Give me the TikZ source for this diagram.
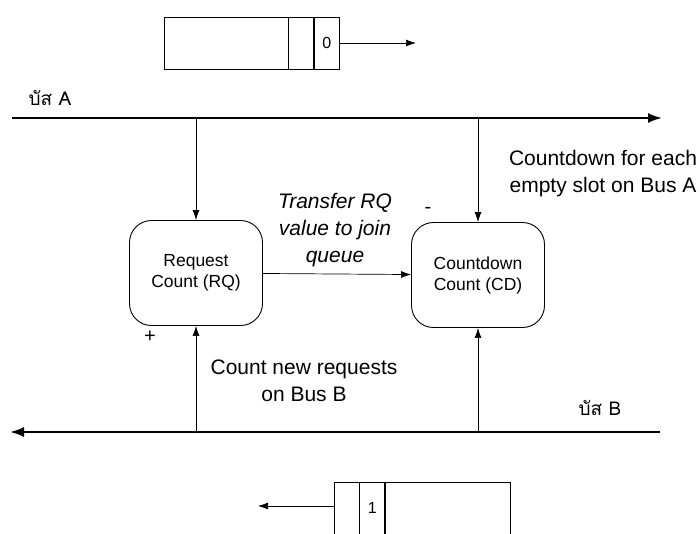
\documentclass[tikz,border=0pt]{standalone}
\usepackage{fontspec}
\setmainfont{Liberation Sans}
\newfontfamily\thaifont[Script=Thai]{Loma}
\usetikzlibrary{positioning,arrows.meta}

\begin{document}
\begin{tikzpicture}[x=1pt,y=-1pt,
      cuenta/.style={rounded corners=22pt,draw,line width=0.9pt,
                     minimum width=133pt,minimum height=105pt,align=center,
                     font=\fontsize{17.5}{21}\selectfont},
      celda/.style={draw,line width=0.7pt,minimum height=52pt,inner sep=0pt,
                    font=\fontsize{16}{18}\selectfont},
      rotulo/.style={align=center,font=\fontsize{21}{27}\selectfont},
      bus/.style={-{Latex[length=14pt,width=10pt]},line width=2pt},
      flecha/.style={-{Latex[length=10pt,width=7pt]},line width=0.7pt}]
    \useasboundingbox (0,0) rectangle (700,533);
    % slot streams
    \node[celda,minimum width=124pt] (t1) at (226,43) {};
    \node[celda,minimum width=25pt,right=0pt of t1] (t2) {};
    \node[celda,minimum width=25pt,right=0pt of t2] (t3) {0};
    \coordinate (tfin) at (416,43);
    \draw[flecha] (t3.east) -- (tfin);
    \node[celda,minimum width=25pt] (b1) at (346.5,508) {};
    \node[celda,minimum width=25pt,right=0pt of b1] (b2) {1};
    \node[celda,minimum width=125pt,right=0pt of b2] (b3) {};
    \coordinate (bfin) at (258,506);
    \draw[flecha] (b1.west |- bfin) -- (bfin);
    % buses
    \coordinate (a0) at (12,118);
    \coordinate (a1) at (662,118);
    \coordinate (b0) at (660,432);
    \coordinate (b9) at (10,432);
    \draw[bus] (a0) -- (a1);
    \draw[bus] (b0) -- (b9);
    \node[font=\thaifont\fontsize{19}{22}\selectfont] (la) at (50,98) {บัส A};
    \node[font=\thaifont\fontsize{19}{22}\selectfont] (lb) at (600,408) {บัส B};
    % counters
    \node[cuenta] (rq) at (196,273) {Request\\Count (RQ)};
    \node[cuenta] (cd) at (478,275) {Countdown\\Count (CD)};
    \draw[flecha] (rq.north |- a0) -- (rq.north);
    \draw[flecha] (cd.north |- a0) -- (cd.north);
    \draw[flecha] (rq.south |- b0) -- (rq.south);
    \draw[flecha] (cd.south |- b0) -- (cd.south);
    \draw[flecha] (rq) -- (cd);
    % labels
    \node[rotulo,font=\itshape\fontsize{21}{27}\selectfont] (tr) at (335,230) {Transfer RQ\\value to join\\queue};
    \node[rotulo] (cf) at (603,174) {Countdown for each\\empty slot on Bus A};
    \node[rotulo] (cn) at (304,381) {Count new requests\\on Bus B};
    \node[font=\fontsize{20}{22}\selectfont] (mn) at (428,210) {-};
    \node[font=\fontsize{20}{22}\selectfont] (mas) at (150,337) {+};
  \end{tikzpicture}
\end{document}
